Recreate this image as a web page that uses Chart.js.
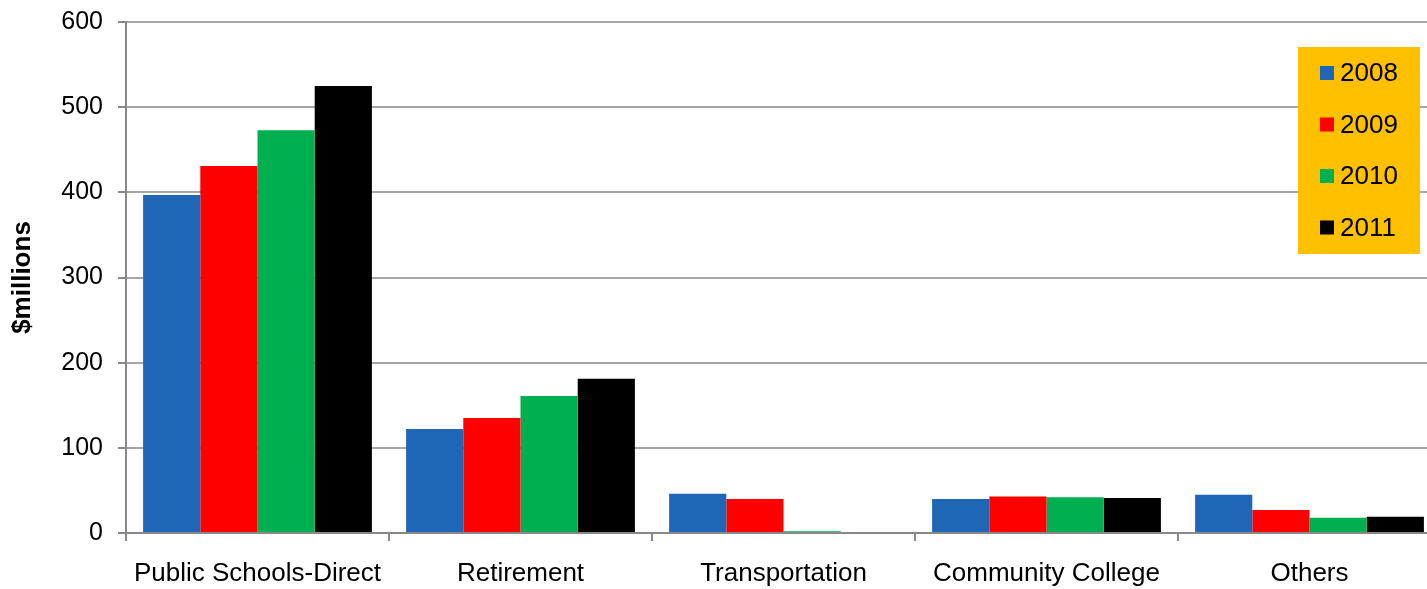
<!DOCTYPE html>
<html>
<head>
<meta charset="utf-8">
<script src="https://cdn.jsdelivr.net/npm/chart.js@4/dist/chart.umd.min.js"></script>
<style>
  html, body { margin: 0; padding: 0; background: #fff; }
  #wrap { width: 1427px; height: 589px; }
</style>
</head>
<body>
<div id="wrap"><canvas id="grafica"></canvas></div>
<script>
// datos
const categorias = ['Public Schools-Direct', 'Retirement', 'Transportation', 'Community College', 'Others'];
const anios = ['2008', '2009', '2010', '2011'];
const valores2008 = [397, 122, 46, 40, 45];
const valores2009 = [431, 135, 40, 43, 27];
const valores2010 = [473, 161, 2, 42, 18];
const valores2011 = [525, 181, 0, 41, 19];
const colores = ['#1F66B7', '#FF0000', '#00B050', '#000000'];
const ticksY = [0, 100, 200, 300, 400, 500, 600];

const series = [valores2008, valores2009, valores2010, valores2011];
const fuente = 'Liberation Sans, Arial, sans-serif';

// el area del grafico original sigue un poco fuera del borde derecho
// y empieza mas arriba de lo que Chart.js deja por defecto
const recortePlugin = {
    id: 'recorteDerecho',
    afterLayout(chart) {
        const extra = 14;
        const arriba = 22;
        const x = chart.scales.x;
        const y = chart.scales.y;
        const area = chart.chartArea;
        x.right += extra;
        x.width += extra;
        area.right += extra;
        area.width += extra;
        const dy = area.top - arriba;
        area.top = arriba;
        area.height += dy;
        y.top = arriba;
        y.height += dy;
        x.configure();
        y.configure();
    }
};

// leyenda con fondo naranja, dibujada a mano
const leyendaPlugin = {
    id: 'leyendaNaranja',
    afterDraw(chart) {
        const ctx = chart.ctx;
        ctx.save();
        ctx.fillStyle = '#FFC000';
        ctx.fillRect(1298, 47, 122, 207);
        ctx.font = '26px ' + fuente;
        ctx.textBaseline = 'middle';
        chart.data.datasets.forEach((ds, i) => {
            const y = 73 + i * 51.5;
            ctx.fillStyle = ds.backgroundColor;
            ctx.fillRect(1320, y - 7, 14, 14);
            ctx.fillStyle = '#000';
            ctx.fillText(ds.label, 1340, y + 1);
        });
        ctx.restore();
    }
};

new Chart(document.getElementById('grafica'), {
    type: 'bar',
    data: {
        labels: categorias,
        datasets: anios.map((anio, i) => ({
            label: anio,
            data: series[i],
            backgroundColor: colores[i],
            borderWidth: 0,
            barPercentage: 1,
            categoryPercentage: 0.87
        }))
    },
    options: {
        responsive: true,
        maintainAspectRatio: false,
        animation: false,
        layout: { padding: { top: 14, right: 0, left: 0, bottom: 0 } },
        plugins: {
            legend: { display: false },
            tooltip: { enabled: false }
        },
        scales: {
            x: {
                offset: true,
                grid: {
                    offset: true,
                    drawOnChartArea: false,
                    color: '#888',
                    lineWidth: 2,
                    tickLength: 8
                },
                border: { color: '#888', width: 2 },
                ticks: {
                    color: '#000',
                    font: { family: fuente, size: 26 },
                    padding: 17,
                    maxRotation: 0
                },
                afterFit(scale) { scale.height = 56; }
            },
            y: {
                min: 0,
                max: 600,
                afterBuildTicks(scale) {
                    scale.ticks = ticksY.map(v => ({ value: v }));
                },
                grid: {
                    color: '#A6A6A6',
                    lineWidth: 2,
                    tickLength: 8,
                    tickColor: '#888'
                },
                border: { color: '#888', width: 2 },
                ticks: {
                    color: '#000',
                    font: { family: fuente, size: 25 },
                    padding: 15
                },
                title: {
                    display: true,
                    text: '$millions',
                    color: '#000',
                    font: { family: fuente, size: 26, weight: 'bold' },
                    padding: { top: 7, bottom: 0 }
                },
                afterFit(scale) { scale.width = 126; }
            }
        }
    },
    plugins: [recortePlugin, leyendaPlugin]
});
</script>
</body>
</html>
